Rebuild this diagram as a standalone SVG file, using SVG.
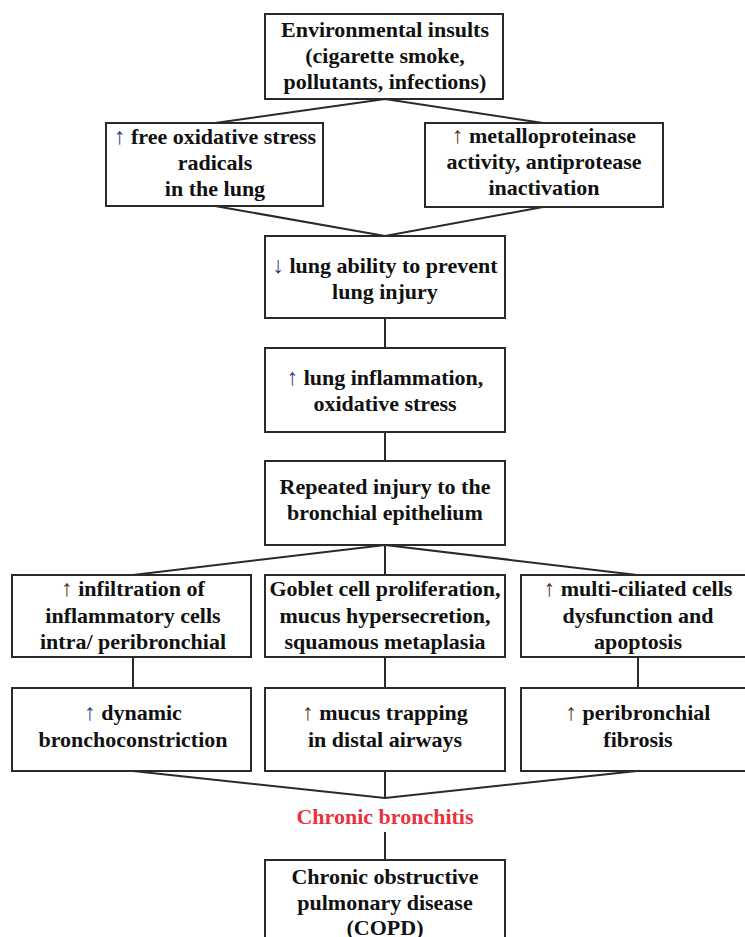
<svg xmlns="http://www.w3.org/2000/svg" width="745" height="937" viewBox="0 0 745 937">
<style>
.box{fill:#fff;stroke:#2a2a2a;stroke-width:2}
.t{font-family:'Liberation Serif','Times New Roman',Tinos,'DejaVu Serif',serif;font-weight:700;font-size:22px;fill:#111;text-anchor:middle}
.ar{font-weight:normal;font-size:23px}
.b{fill:#2b3a8c}
.r{fill:#5a2e1a}
.red{fill:#e8333e}
.c{stroke:#2a2a2a;stroke-width:2;fill:none}
</style>
<rect width="745" height="937" fill="#fff"/>
<g id="connectors">
<polyline class="c" points="215,123 385,99 543,123"/>
<polyline class="c" points="215,206 385,236 543,207"/>
<line class="c" x1="385" y1="318" x2="385" y2="348"/>
<line class="c" x1="385" y1="432" x2="385" y2="461"/>
<line class="c" x1="385" y1="545" x2="133" y2="575"/>
<line class="c" x1="385" y1="545" x2="385" y2="575"/>
<line class="c" x1="385" y1="545" x2="637" y2="575"/>
<line class="c" x1="133" y1="657" x2="133" y2="688"/>
<line class="c" x1="385" y1="657" x2="385" y2="688"/>
<line class="c" x1="638" y1="657" x2="638" y2="688"/>
<polyline class="c" points="133,771 385,798 637,771"/>
<line class="c" x1="385" y1="771" x2="385" y2="798"/>
<line class="c" x1="385" y1="832" x2="385" y2="860"/>
</g>
<g id="n1"><rect class="box" x="265" y="14" width="238" height="85"/>
<text class="t" x="385" y="37">Environmental insults</text>
<text class="t" x="385" y="63">(cigarette smoke,</text>
<text class="t" x="385" y="89">pollutants, infections)</text></g>
<g id="n2"><rect class="box" x="106" y="123" width="217" height="83"/>
<text class="t" x="215" y="144"><tspan class="ar b">↑</tspan> free oxidative stress</text>
<text class="t" x="215" y="170">radicals</text>
<text class="t" x="215" y="196">in the lung</text></g>
<g id="n3"><rect class="box" x="425" y="123" width="238" height="84"/>
<text class="t" x="544" y="143"><tspan class="ar r">↑</tspan> metalloproteinase</text>
<text class="t" x="544" y="169">activity, antiprotease</text>
<text class="t" x="544" y="195">inactivation</text></g>
<g id="n4"><rect class="box" x="265" y="236" width="240" height="82"/>
<text class="t" x="385" y="273"><tspan class="ar b">↓</tspan> lung ability to prevent</text>
<text class="t" x="385" y="299">lung injury</text></g>
<g id="n5"><rect class="box" x="265" y="348" width="240" height="84"/>
<text class="t" x="385" y="385"><tspan class="ar b">↑</tspan> lung inflammation,</text>
<text class="t" x="385" y="411">oxidative stress</text></g>
<g id="n6"><rect class="box" x="265" y="461" width="240" height="84"/>
<text class="t" x="385" y="494">Repeated injury to the</text>
<text class="t" x="385" y="520">bronchial epithelium</text></g>
<g id="n7"><rect class="box" x="12" y="575" width="239" height="82"/>
<text class="t" x="133" y="596"><tspan class="ar r">↑</tspan> infiltration of</text>
<text class="t" x="133" y="623">inflammatory cells</text>
<text class="t" x="133" y="649">intra/ peribronchial</text></g>
<g id="n8"><rect class="box" x="265" y="575" width="240" height="82"/>
<text class="t" x="385" y="596">Goblet cell proliferation,</text>
<text class="t" x="385" y="623">mucus hypersecretion,</text>
<text class="t" x="385" y="649">squamous metaplasia</text></g>
<g id="n9"><rect class="box" x="521" y="575" width="235" height="82"/>
<text class="t" x="638" y="596"><tspan class="ar r">↑</tspan> multi-ciliated cells</text>
<text class="t" x="638" y="623">dysfunction and</text>
<text class="t" x="638" y="649">apoptosis</text></g>
<g id="n10"><rect class="box" x="12" y="688" width="239" height="83"/>
<text class="t" x="133" y="720"><tspan class="ar b">↑</tspan> dynamic</text>
<text class="t" x="133" y="747">bronchoconstriction</text></g>
<g id="n11"><rect class="box" x="265" y="688" width="240" height="83"/>
<text class="t" x="385" y="720"><tspan class="ar r">↑</tspan> mucus trapping</text>
<text class="t" x="385" y="747">in distal airways</text></g>
<g id="n12"><rect class="box" x="521" y="688" width="235" height="83"/>
<text class="t" x="638" y="720"><tspan class="ar r">↑</tspan> peribronchial</text>
<text class="t" x="638" y="747">fibrosis</text></g>
<g id="n13"><text class="t red" x="385" y="824">Chronic bronchitis</text></g>
<g id="n14"><rect class="box" x="265" y="860" width="240" height="90"/>
<text class="t" x="385" y="884">Chronic obstructive</text>
<text class="t" x="385" y="910">pulmonary disease</text>
<text class="t" x="385" y="935">(COPD)</text></g>
</svg>
